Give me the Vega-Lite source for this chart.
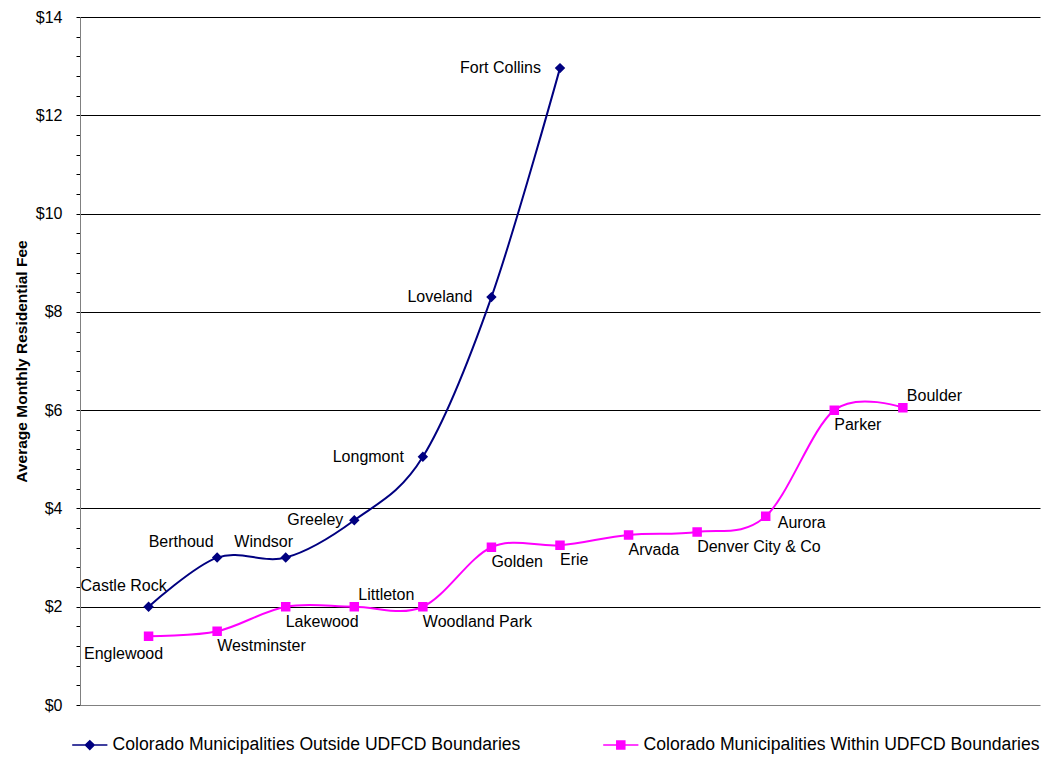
{
  "$schema": "https://vega.github.io/schema/vega-lite/v6.json",
  "width": 960,
  "height": 688,
  "autosize": {"type": "none"},
  "padding": {"left": 80, "top": 17, "right": 1, "bottom": 55},
  "background": "white",
  "config": {"font": "Liberation Sans", "view": {"stroke": null}},
  "data": {
    "values": [
      {"series": "Colorado Municipalities Outside UDFCD Boundaries", "city": "Castle Rock", "idx": 1, "fee": 2.0},
      {"series": "Colorado Municipalities Outside UDFCD Boundaries", "city": "Berthoud", "idx": 2, "fee": 3.0},
      {"series": "Colorado Municipalities Outside UDFCD Boundaries", "city": "Windsor", "idx": 3, "fee": 3.0},
      {"series": "Colorado Municipalities Outside UDFCD Boundaries", "city": "Greeley", "idx": 4, "fee": 3.76},
      {"series": "Colorado Municipalities Outside UDFCD Boundaries", "city": "Longmont", "idx": 5, "fee": 5.05},
      {"series": "Colorado Municipalities Outside UDFCD Boundaries", "city": "Loveland", "idx": 6, "fee": 8.3},
      {"series": "Colorado Municipalities Outside UDFCD Boundaries", "city": "Fort Collins", "idx": 7, "fee": 12.96},
      {"series": "Colorado Municipalities Within UDFCD Boundaries", "city": "Englewood", "idx": 1, "fee": 1.4},
      {"series": "Colorado Municipalities Within UDFCD Boundaries", "city": "Westminster", "idx": 2, "fee": 1.5},
      {"series": "Colorado Municipalities Within UDFCD Boundaries", "city": "Lakewood", "idx": 3, "fee": 2.0},
      {"series": "Colorado Municipalities Within UDFCD Boundaries", "city": "Littleton", "idx": 4, "fee": 2.0},
      {"series": "Colorado Municipalities Within UDFCD Boundaries", "city": "Woodland Park", "idx": 5, "fee": 2.0},
      {"series": "Colorado Municipalities Within UDFCD Boundaries", "city": "Golden", "idx": 6, "fee": 3.21},
      {"series": "Colorado Municipalities Within UDFCD Boundaries", "city": "Erie", "idx": 7, "fee": 3.25},
      {"series": "Colorado Municipalities Within UDFCD Boundaries", "city": "Arvada", "idx": 8, "fee": 3.46},
      {"series": "Colorado Municipalities Within UDFCD Boundaries", "city": "Denver City & Co", "idx": 9, "fee": 3.52},
      {"series": "Colorado Municipalities Within UDFCD Boundaries", "city": "Aurora", "idx": 10, "fee": 3.84},
      {"series": "Colorado Municipalities Within UDFCD Boundaries", "city": "Parker", "idx": 11, "fee": 6.0},
      {"series": "Colorado Municipalities Within UDFCD Boundaries", "city": "Boulder", "idx": 12, "fee": 6.05}
    ]
  },
  "encoding": {
    "x": {
      "field": "idx", "type": "quantitative",
      "scale": {"domain": [0, 14], "nice": false, "zero": false},
      "axis": {"title": null, "labels": false, "ticks": false, "grid": false, "domainColor": "#808080", "domainWidth": 1}
    },
    "y": {
      "field": "fee", "type": "quantitative",
      "scale": {"domain": [0, 14], "nice": false},
      "axis": {
        "title": "Average Monthly Residential Fee",
        "titleFont": "Liberation Sans",
        "titleFontSize": 15.5,
        "titleFontWeight": "bold",
        "titleColor": "#000000",
        "titlePadding": 6,
        "values": [0,0.4,0.8,1.2,1.6,2,2.4,2.8,3.2,3.6,4,4.4,4.8,5.2,5.6,6,6.4,6.8,7.2,7.6,8,8.4,8.8,9.2,9.6,10,10.4,10.8,11.2,11.6,12,12.4,12.8,13.2,13.6,14],
        "labelExpr": "abs(datum.value/2 - round(datum.value/2)) < 0.01 ? '$' + round(datum.value) : ''",
        "labelOverlap": false,
        "labelFont": "Liberation Sans",
        "labelFontSize": 16,
        "labelColor": "#000000",
        "labelPadding": 14,
        "labelBound": false,
        "labelFlush": false,
        "tickSize": 4,
        "tickColor": "#000000",
        "domainColor": "#808080",
        "grid": true,
        "gridColor": "#000000",
        "gridWidth": 1,
        "gridOpacity": {"condition": {"test": "datum.value > 0 && abs(datum.value/2 - round(datum.value/2)) < 0.01", "value": 1}, "value": 0}
      }
    }
  },
  "layer": [
    {
      "transform": [{"filter": "datum.idx > 100"}],
      "mark": {"type": "point", "size": 64, "strokeWidth": 1.5, "opacity": 1},
      "encoding": {
        "fill": {
          "field": "series", "type": "nominal",
          "scale": {"domain": ["Colorado Municipalities Outside UDFCD Boundaries", "Colorado Municipalities Within UDFCD Boundaries"], "range": ["#000080", "#FF00FF"]},
          "legend": {"orient": "none", "legendX": 1, "legendY": 719, "direction": "horizontal", "title": null, "labelFont": "Liberation Sans", "labelFontSize": 17.6, "labelColor": "#000000", "labelLimit": 0, "symbolSize": 64, "symbolStrokeWidth": 1.5, "labelOffset": 14, "columnPadding": 79}
        },
        "stroke": {
          "field": "series", "type": "nominal",
          "scale": {"domain": ["Colorado Municipalities Outside UDFCD Boundaries", "Colorado Municipalities Within UDFCD Boundaries"], "range": ["#000080", "#FF00FF"]},
          "legend": {"orient": "none", "legendX": 1, "legendY": 719, "direction": "horizontal", "title": null, "labelFont": "Liberation Sans", "labelFontSize": 17.6, "labelColor": "#000000", "labelLimit": 0, "symbolSize": 64, "symbolStrokeWidth": 1.5, "labelOffset": 14, "columnPadding": 79}
        },
        "shape": {
          "field": "series", "type": "nominal",
          "scale": {"domain": ["Colorado Municipalities Outside UDFCD Boundaries", "Colorado Municipalities Within UDFCD Boundaries"], "range": ["M-4.4,0H4.4M0,-1.1L1.1,0L0,1.1L-1.1,0Z", "M-4.4,0H4.4M-1,-1H1V1H-1Z"]},
          "legend": {"orient": "none", "legendX": 1, "legendY": 719, "direction": "horizontal", "title": null, "labelFont": "Liberation Sans", "labelFontSize": 17.6, "labelColor": "#000000", "labelLimit": 0, "symbolSize": 64, "symbolStrokeWidth": 1.5, "labelOffset": 14, "columnPadding": 79}
        }
      }
    },
    {
      "mark": {"type": "line", "interpolate": "cardinal", "strokeWidth": 2},
      "encoding": {
        "color": {
          "field": "series", "type": "nominal",
          "scale": {"domain": ["Colorado Municipalities Outside UDFCD Boundaries", "Colorado Municipalities Within UDFCD Boundaries"], "range": ["#000080", "#FF00FF"]},
          "legend": {"orient": "none", "legendX": 1, "legendY": 719, "direction": "horizontal", "title": null, "labelFont": "Liberation Sans", "labelFontSize": 17.6, "labelColor": "#000000", "labelLimit": 0, "symbolSize": 64, "symbolStrokeWidth": 1.5, "labelOffset": 14, "columnPadding": 79}
        }
      }
    },
    {
      "mark": {"type": "point", "filled": true, "size": 90, "opacity": 1},
      "encoding": {
        "color": {
          "field": "series", "type": "nominal",
          "scale": {"domain": ["Colorado Municipalities Outside UDFCD Boundaries", "Colorado Municipalities Within UDFCD Boundaries"], "range": ["#000080", "#FF00FF"]},
          "legend": {"orient": "none", "legendX": 1, "legendY": 719, "direction": "horizontal", "title": null, "labelFont": "Liberation Sans", "labelFontSize": 17.6, "labelColor": "#000000", "labelLimit": 0, "symbolSize": 64, "symbolStrokeWidth": 1.5, "labelOffset": 14, "columnPadding": 79}
        },
        "shape": {
          "field": "series", "type": "nominal",
          "scale": {"domain": ["Colorado Municipalities Outside UDFCD Boundaries", "Colorado Municipalities Within UDFCD Boundaries"], "range": ["M-4.4,0H4.4M0,-1.1L1.1,0L0,1.1L-1.1,0Z", "M-4.4,0H4.4M-1,-1H1V1H-1Z"]},
          "legend": {"orient": "none", "legendX": 1, "legendY": 719, "direction": "horizontal", "title": null, "labelFont": "Liberation Sans", "labelFontSize": 17.6, "labelColor": "#000000", "labelLimit": 0, "symbolSize": 64, "symbolStrokeWidth": 1.5, "labelOffset": 14, "columnPadding": 79}
        }
      }
    },
    {
      "transform": [{"filter": {"field": "city", "oneOf": ["Greeley"]}}],
      "mark": {"type": "text", "align": "right", "baseline": "middle", "dx": -11, "dy": 0, "fontSize": 16, "font": "Liberation Sans", "color": "#000000"},
      "encoding": {"text": {"field": "city"}}
    },
    {
      "transform": [{"filter": {"field": "city", "oneOf": ["Longmont", "Loveland", "Fort Collins"]}}],
      "mark": {"type": "text", "align": "right", "baseline": "middle", "dx": -19, "dy": 0, "fontSize": 16, "font": "Liberation Sans", "color": "#000000"},
      "encoding": {"text": {"field": "city"}}
    },
    {
      "transform": [{"filter": {"field": "city", "oneOf": ["Castle Rock"]}}],
      "mark": {"type": "text", "align": "center", "baseline": "middle", "dx": -25, "dy": -21, "fontSize": 16, "font": "Liberation Sans", "color": "#000000"},
      "encoding": {"text": {"field": "city"}}
    },
    {
      "transform": [{"filter": {"field": "city", "oneOf": ["Berthoud"]}}],
      "mark": {"type": "text", "align": "center", "baseline": "middle", "dx": -36, "dy": -16, "fontSize": 16, "font": "Liberation Sans", "color": "#000000"},
      "encoding": {"text": {"field": "city"}}
    },
    {
      "transform": [{"filter": {"field": "city", "oneOf": ["Windsor"]}}],
      "mark": {"type": "text", "align": "center", "baseline": "middle", "dx": -22, "dy": -16, "fontSize": 16, "font": "Liberation Sans", "color": "#000000"},
      "encoding": {"text": {"field": "city"}}
    },
    {
      "transform": [{"filter": {"field": "city", "oneOf": ["Westminster", "Lakewood", "Woodland Park", "Golden", "Erie", "Arvada", "Denver City & Co", "Parker"]}}],
      "mark": {"type": "text", "align": "left", "baseline": "middle", "dx": 0, "dy": 15, "fontSize": 16, "font": "Liberation Sans", "color": "#000000"},
      "encoding": {"text": {"field": "city"}}
    },
    {
      "transform": [{"filter": {"field": "city", "oneOf": ["Englewood"]}}],
      "mark": {"type": "text", "align": "center", "baseline": "middle", "dx": -25, "dy": 18, "fontSize": 16, "font": "Liberation Sans", "color": "#000000"},
      "encoding": {"text": {"field": "city"}}
    },
    {
      "transform": [{"filter": {"field": "city", "oneOf": ["Littleton", "Boulder"]}}],
      "mark": {"type": "text", "align": "left", "baseline": "middle", "dx": 4, "dy": -12, "fontSize": 16, "font": "Liberation Sans", "color": "#000000"},
      "encoding": {"text": {"field": "city"}}
    },
    {
      "transform": [{"filter": {"field": "city", "oneOf": ["Aurora"]}}],
      "mark": {"type": "text", "align": "left", "baseline": "middle", "dx": 12, "dy": 7, "fontSize": 16, "font": "Liberation Sans", "color": "#000000"},
      "encoding": {"text": {"field": "city"}}
    }
  ]
}
